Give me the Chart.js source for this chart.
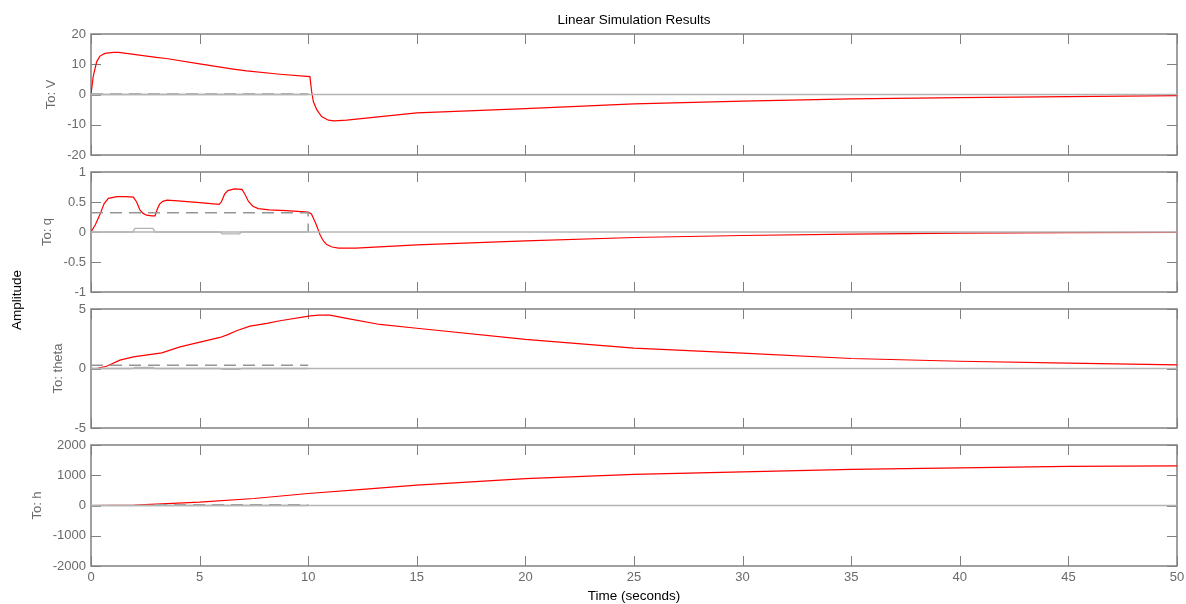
<!DOCTYPE html>
<html><head><meta charset="utf-8">
<script src="https://cdn.jsdelivr.net/npm/chart.js@4.4.0/dist/chart.umd.min.js"></script>
<style>
html,body{margin:0;padding:0;background:#fff;}
#wrap{position:relative;width:1186px;height:604px;overflow:hidden;background:#fff;}
canvas{position:absolute;left:0;top:0;}
.lbl{position:absolute;font-family:"Liberation Sans",Arial,sans-serif;color:#000;white-space:nowrap;line-height:16px;}
#title{left:91px;width:1086px;top:12px;text-align:center;font-size:13.5px;}
#amp{left:17px;top:300px;font-size:13.5px;transform:translate(-50%,-50%) rotate(-90deg);}
</style></head><body>
<div id="wrap">
<canvas id="c0" width="1186" height="604"></canvas>
<canvas id="c1" width="1186" height="604"></canvas>
<canvas id="c2" width="1186" height="604"></canvas>
<canvas id="c3" width="1186" height="604"></canvas>
<div class="lbl" id="title">Linear Simulation Results</div>
<div class="lbl" id="amp">Amplitude</div>
</div>
<script>
// ---- tick labels ----
const xTicks = [0,5,10,15,20,25,30,35,40,45,50];
const vTicks = [-20,-10,0,10,20];
const qTicks = [-1,-0.5,0,0.5,1];
const thetaTicks = [-5,0,5];
const hTicks = [-2000,-1000,0,1000,2000];

// ---- zero reference ----
const zeroT = [0,50];
const zeroY = [0,0];

// ---- To: V ----
const vT = [0,0.1,0.26,0.41,0.64,1.03,1.26,1.8,3.0,3.47,5.0,6.55,7.17,8.7,10.08,10.16,10.24,10.4,10.62,10.93,11.2,11.77,15,20,25,30,35,40,45,50];
const vY = [0,5.9,10.8,12.7,13.6,13.9,13.9,13.4,12.3,11.9,10.1,8.4,7.8,6.7,5.9,0.9,-2.4,-5.1,-7.3,-8.5,-8.7,-8.45,-6.1,-4.7,-3.1,-2.2,-1.45,-1.05,-0.7,-0.4];
const vDashT = [0,10];
const vDashY = [0.2,0.2];
const vInT = [0,10];
const vInY = [0,0];

// ---- To: q ----
const qT = [0,0.2,0.41,0.6,0.8,1.2,1.6,1.95,2.1,2.25,2.4,2.56,2.8,2.95,3.05,3.15,3.3,3.5,4.0,5.0,5.9,6.0,6.15,6.3,6.6,6.95,7.1,7.25,7.45,7.7,8.2,9.0,10.0,10.15,10.35,10.55,10.7,10.85,11.1,11.4,12.2,15,20,25,30,35,40,45,50];
const qY = [0,0.12,0.29,0.47,0.56,0.59,0.59,0.58,0.5,0.37,0.31,0.28,0.27,0.27,0.38,0.46,0.51,0.53,0.52,0.49,0.46,0.5,0.63,0.69,0.72,0.71,0.62,0.51,0.43,0.39,0.37,0.355,0.33,0.3,0.14,-0.05,-0.15,-0.21,-0.25,-0.27,-0.27,-0.215,-0.148,-0.092,-0.058,-0.035,-0.02,-0.012,-0.007];
const qDashT = [0,10,10];
const qDashY = [0.32,0.32,0];
const qInT = [0,1.92,2.02,2.85,2.95,5.94,6.04,6.84,6.94,10];
const qInY = [0,0,0.06,0.06,0,0,-0.03,-0.03,0,0];

// ---- To: theta ----
const thT = [0,0.3,0.72,1.33,1.95,2.6,3.26,4.1,4.87,5.94,6.3,6.7,7.32,8.1,8.7,10.1,10.5,11.0,11.77,13.3,15,20,25,30,35,40,45,50];
const thY = [0,0.02,0.19,0.7,0.98,1.15,1.31,1.82,2.16,2.61,2.85,3.17,3.56,3.79,4.01,4.43,4.49,4.49,4.21,3.7,3.38,2.44,1.72,1.3,0.84,0.61,0.45,0.31];
const thDashT = [0,10];
const thDashY = [0.27,0.27];
const thInT = [0,1.92,2.02,2.85,2.95,5.94,6.04,6.84,6.94,10];
const thInY = [0,0,0.1,0.1,0,0,-0.08,-0.08,0,0];

// ---- To: h ----
const hT = [0,2,3,5,7.5,10,12.5,15,17.5,20,25,30,35,40,45,50];
const hY = [0,15,45,110,232,397,535,672,783,890,1030,1113,1193,1247,1292,1313];
const hDashT = [2.95,10];
const hDashY = [25,25];
const hInT = [0,10];
const hInY = [0,0];

// ---- helpers ----
const FONT = '"Liberation Sans", Arial, sans-serif';
const AX = '#808080';
const TICKCOL = '#6a6a6a';
const TL = 10;
function xy(ts, ys){ return ts.map((t,i)=>({x:t,y:ys[i]})); }

const boxPlugin = {
  id:'boxTicks',
  beforeDatasetsDraw(chart, args, opts){
    const {ctx, chartArea:a, scales:{x,y}} = chart;
    ctx.save();
    ctx.strokeStyle = AX;
    ctx.lineWidth = 1;
    ctx.beginPath();
    xTicks.forEach(v=>{
      const px = Math.round(x.getPixelForValue(v))+0.5;
      ctx.moveTo(px,a.top); ctx.lineTo(px,a.top+TL);
      ctx.moveTo(px,a.bottom); ctx.lineTo(px,a.bottom-TL);
    });
    opts.yTicks.forEach(v=>{
      const py = Math.round(y.getPixelForValue(v))+0.5;
      ctx.moveTo(a.left,py); ctx.lineTo(a.left+TL,py);
      ctx.moveTo(a.right,py); ctx.lineTo(a.right-TL,py);
    });
    ctx.stroke();
    ctx.lineWidth = 1.5;
    ctx.strokeRect(a.left, a.top, a.right-a.left, a.bottom-a.top);
    ctx.restore();
  }
};

const panels = [
  {id:'c0', label:'To: V', top:34, bottom:155, ticks:vTicks, pad:44, t:vT, y:vY, dt:vDashT, dy:vDashY, it:vInT, iy:vInY},
  {id:'c1', label:'To: q', top:172, bottom:292, ticks:qTicks, pad:40, t:qT, y:qY, dt:qDashT, dy:qDashY, it:qInT, iy:qInY},
  {id:'c2', label:'To: theta', top:309, bottom:428, ticks:thetaTicks, pad:51, t:thT, y:thY, dt:thDashT, dy:thDashY, it:thInT, iy:thInY},
  {id:'c3', label:'To: h', top:445, bottom:566, ticks:hTicks, pad:30, t:hT, y:hY, dt:hDashT, dy:hDashY, it:hInT, iy:hInY, last:true}
];

panels.forEach(p=>{
  const last = !!p.last;
  const XH = 38;
  new Chart(document.getElementById(p.id), {
    type:'line',
    data:{datasets:[
      {data:xy(zeroT,zeroY), borderColor:'#b4b4b4', borderWidth:1.3},
      {data:xy(p.it,p.iy), borderColor:'#b4b4b4', borderWidth:1.3},
      {data:xy(p.dt,p.dy), borderColor:'#959595', borderWidth:1.5, borderDash:[12,7]},
      {data:xy(p.t,p.y), borderColor:'#ff0000', borderWidth:1.2}
    ]},
    options:{
      responsive:false, animation:false, events:[],
      layout:{padding:{left:0, right:1186-1177, top:p.top, bottom: last ? 604-p.bottom-XH : 604-p.bottom}},
      elements:{point:{radius:0}, line:{tension:0, borderCapStyle:'butt'}},
      plugins:{legend:{display:false}, tooltip:{enabled:false}, title:{display:false}, boxTicks:{yTicks:p.ticks}},
      scales:{
        x:{type:'linear', min:0, max:50, display:last,
           afterBuildTicks(s){ s.ticks = xTicks.map(v=>({value:v})); },
           afterFit(s){ if (last) s.height = XH; },
           grid:{display:false, drawTicks:false, tickLength:0},
           border:{display:false},
           ticks:{color:TICKCOL, font:{family:FONT, size:13, lineHeight:'20px'}, padding:1.5, maxRotation:0, autoSkip:false, callback:v=>String(v)},
           title:{display:true, text:'Time (seconds)', color:'#000', font:{family:FONT, size:13.5}, padding:{top:0,bottom:0}}
        },
        y:{type:'linear', min:p.ticks[0], max:p.ticks[p.ticks.length-1],
           afterBuildTicks(s){ s.ticks = p.ticks.map(v=>({value:v})); },
           afterFit(s){ s.width = 91; },
           grid:{display:false, drawTicks:false, tickLength:0},
           border:{display:false},
           ticks:{color:TICKCOL, font:{family:FONT, size:13}, padding:5, autoSkip:false, callback:v=>String(v)},
           title:{display:true, text:p.label, color:TICKCOL, font:{family:FONT, size:13}, padding:{top:p.pad, bottom:0}}
        }
      }
    },
    plugins:[boxPlugin]
  });
});
</script>
</body></html>
